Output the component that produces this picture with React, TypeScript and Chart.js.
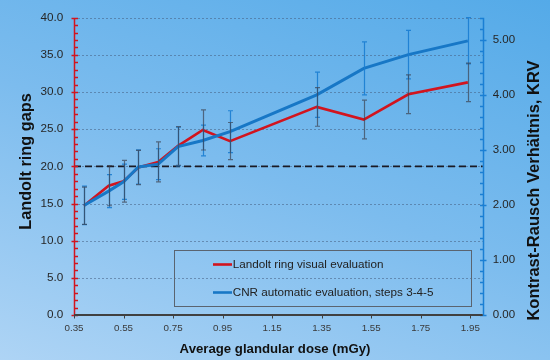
import React, { useEffect, useRef } from 'react';
import { Chart, registerables } from 'chart.js';

Chart.register(...registerables);

// ---- data ----
const doses = [0.39, 0.49, 0.55, 0.61, 0.69, 0.77, 0.87, 0.98, 1.33, 1.52, 1.70, 1.94];
const landolt = [14.7, 17.4, 18.0, 19.85, 20.6, 22.75, 24.9, 23.4, 28.0, 26.3, 29.7, 31.3];
const landoltErr = [2.5, 2.7, 2.8, 2.3, 2.7, 2.6, 2.7, 2.5, 2.6, 2.6, 2.6, 2.6];
const cnr = [1.99, 2.25, 2.42, 2.69, 2.74, 3.06, 3.17, 3.33, 4.0, 4.48, 4.73, 4.98];
const cnrErr = [0.35, 0.3, 0.32, 0.31, 0.28, 0.35, 0.28, 0.38, 0.41, 0.48, 0.44, 0.42];
const threshold = 20;

const xTickValues = [0.35, 0.55, 0.75, 0.95, 1.15, 1.35, 1.55, 1.75, 1.95];
const leftTickValues = [0, 5, 10, 15, 20, 25, 30, 35, 40];
const rightTickValues = [0, 1, 2, 3, 4, 5];

const seriesLabels = ['Landolt ring visual evaluation', 'CNR automatic evaluation, steps 3-4-5'];
const xTitle = 'Average glandular dose (mGy)';
const leftTitle = 'Landolt ring gaps';
const rightTitle = 'Kontrast-Rausch Verhältnis, KRV';

const FONT = '"Liberation Sans", Arial, Helvetica, sans-serif';
const RED = '#d2141e';
const BLUE = '#1777c6';

export default function App() {
  const ref = useRef<HTMLCanvasElement>(null);

  useEffect(() => {
    const canvas = ref.current;
    if (!canvas) return;

    const customPlugin = {
      id: 'customDecor',
      beforeDatasetsDraw(chart: any) {
        const { ctx, chartArea: a, scales } = chart;
        const yL = scales.y;
        ctx.save();
        // dotted grid lines
        ctx.strokeStyle = 'rgba(70,95,130,0.55)';
        ctx.lineWidth = 1;
        ctx.setLineDash([2, 2]);
        leftTickValues.forEach((v) => {
          if (v === 0) return;
          const py = Math.round(yL.getPixelForValue(v)) + 0.5;
          ctx.beginPath();
          ctx.moveTo(a.left, py);
          ctx.lineTo(a.right, py);
          ctx.stroke();
        });
        // threshold dashed line
        ctx.strokeStyle = '#1a1a24';
        ctx.lineWidth = 1.8;
        ctx.setLineDash([7, 4]);
        const ty = yL.getPixelForValue(threshold);
        ctx.beginPath();
        ctx.moveTo(a.left, ty);
        ctx.lineTo(a.right, ty);
        ctx.stroke();
        ctx.restore();
      },
      afterDatasetsDraw(chart: any) {
        const { ctx, scales } = chart;
        const xs = scales.x;
        const drawBars = (vals: number[], errs: number[], scale: any, color: string) => {
          ctx.save();
          ctx.strokeStyle = color;
          ctx.lineWidth = 1.2;
          ctx.setLineDash([]);
          vals.forEach((v, i) => {
            const px = Math.round(xs.getPixelForValue(doses[i])) + 0.5;
            const top = scale.getPixelForValue(v + errs[i]);
            const bot = scale.getPixelForValue(v - errs[i]);
            ctx.beginPath();
            ctx.moveTo(px, top);
            ctx.lineTo(px, bot);
            ctx.moveTo(px - 2.5, top);
            ctx.lineTo(px + 2.5, top);
            ctx.moveTo(px - 2.5, bot);
            ctx.lineTo(px + 2.5, bot);
            ctx.stroke();
          });
          ctx.restore();
        };
        drawBars(cnr, cnrErr, scales.y1, 'rgba(25,125,210,0.9)');
        drawBars(landolt, landoltErr, scales.y, 'rgba(60,65,80,0.7)');
      },
      afterDraw(chart: any) {
        const { ctx, chartArea: a, scales } = chart;
        const yL = scales.y;
        const yR = scales.y1;
        const xs = scales.x;
        ctx.save();
        ctx.setLineDash([]);
        // left axis (red)
        const lx = Math.round(a.left) + 0.5;
        ctx.strokeStyle = RED;
        ctx.lineWidth = 1.5;
        ctx.beginPath();
        ctx.moveTo(lx, a.top);
        ctx.lineTo(lx, a.bottom + 1);
        for (let v = 0; v <= 40; v += 1) {
          const py = Math.round(yL.getPixelForValue(v)) + 0.5;
          if (v % 5 === 0) {
            ctx.moveTo(lx - 3, py);
            ctx.lineTo(lx + 3.5, py);
          } else {
            ctx.moveTo(lx, py);
            ctx.lineTo(lx + 3.5, py);
          }
        }
        ctx.stroke();
        // right axis (blue)
        const rx = Math.round(a.right) + 0.5;
        ctx.strokeStyle = '#1a7fd4';
        ctx.beginPath();
        ctx.moveTo(rx, a.top);
        ctx.lineTo(rx, a.bottom + 1);
        for (let k = 0; k <= 27; k++) {
          const v = k * 0.2;
          const py = Math.round(yR.getPixelForValue(v)) + 0.5;
          if (k % 5 === 0) {
            ctx.moveTo(rx - 3.5, py);
            ctx.lineTo(rx + 3, py);
          } else {
            ctx.moveTo(rx - 3.5, py);
            ctx.lineTo(rx, py);
          }
        }
        ctx.stroke();
        // x axis
        ctx.strokeStyle = '#404040';
        ctx.lineWidth = 2;
        const by = Math.round(a.bottom);
        ctx.beginPath();
        ctx.moveTo(a.left, by);
        ctx.lineTo(a.right, by);
        ctx.stroke();
        ctx.lineWidth = 1;
        ctx.beginPath();
        xTickValues.forEach((v) => {
          const px = Math.round(xs.getPixelForValue(v)) + 0.5;
          ctx.moveTo(px, by);
          ctx.lineTo(px, by + 3.5);
        });
        ctx.stroke();

        // titles
        ctx.fillStyle = '#111';
        ctx.textAlign = 'center';
        ctx.textBaseline = 'middle';
        ctx.font = `bold 13.2px ${FONT}`;
        ctx.fillText(xTitle, 275, 349.5);
        ctx.save();
        ctx.translate(27, 161.5);
        ctx.rotate(-Math.PI / 2);
        ctx.font = `bold 16.3px ${FONT}`;
        ctx.fillText(leftTitle, 0, 0);
        ctx.restore();
        ctx.save();
        ctx.translate(534.5, 190.5);
        ctx.rotate(-Math.PI / 2);
        ctx.font = `bold 16.5px ${FONT}`;
        ctx.fillText(rightTitle, 0, 0);
        ctx.restore();

        // legend
        ctx.strokeStyle = '#5a6470';
        ctx.lineWidth = 1;
        ctx.strokeRect(174.5, 250.5, 297, 56);
        const items = [
          { label: seriesLabels[0], color: RED, y: 264.5 },
          { label: seriesLabels[1], color: BLUE, y: 292.5 },
        ];
        ctx.font = `11.7px ${FONT}`;
        ctx.textAlign = 'left';
        items.forEach((it) => {
          ctx.strokeStyle = it.color;
          ctx.lineWidth = 2.6;
          ctx.beginPath();
          ctx.moveTo(213, it.y);
          ctx.lineTo(232, it.y);
          ctx.stroke();
          ctx.fillStyle = '#222';
          ctx.fillText(it.label, 232.7, it.y);
        });
        ctx.restore();
      },
    };

    const chart = new Chart(canvas, {
      type: 'line',
      data: {
        datasets: [
          {
            label: seriesLabels[1],
            data: doses.map((x, i) => ({ x, y: cnr[i] })),
            yAxisID: 'y1',
            borderColor: BLUE,
            borderWidth: 3,
            pointRadius: 0,
            tension: 0,
            fill: false,
            order: 0,
          },
          {
            label: seriesLabels[0],
            data: doses.map((x, i) => ({ x, y: landolt[i] })),
            yAxisID: 'y',
            borderColor: RED,
            borderWidth: 2.6,
            pointRadius: 0,
            tension: 0,
            fill: false,
            order: 1,
          },
        ],
      },
      options: {
        responsive: false,
        animation: false,
        devicePixelRatio: 1,
        layout: { padding: { top: 11.5, left: 0, right: 0, bottom: 0 } },
        plugins: {
          legend: { display: false },
          tooltip: { enabled: false },
        },
        scales: {
          x: {
            type: 'linear',
            min: 0.35,
            max: 2.0,
            grid: { display: false, drawTicks: false },
            border: { display: false },
            afterBuildTicks: (s: any) => {
              s.ticks = xTickValues.map((v) => ({ value: v }));
            },
            afterFit: (s: any) => {
              s.height = 45;
            },
            ticks: {
              autoSkip: false,
              maxRotation: 0,
              padding: 7,
              color: '#3a3a3a',
              font: { family: FONT, size: 9.8 },
              callback: (v: any) => Number(v).toFixed(2),
            },
          },
          y: {
            type: 'linear',
            position: 'left',
            min: 0,
            max: 40,
            grid: { display: false, drawTicks: false },
            border: { display: false },
            afterBuildTicks: (s: any) => {
              s.ticks = leftTickValues.map((v) => ({ value: v }));
            },
            afterFit: (s: any) => {
              s.width = 74;
            },
            ticks: {
              padding: 10.7,
              color: '#262626',
              font: { family: FONT, size: 11.7 },
              callback: (v: any) => Number(v).toFixed(1),
            },
          },
          y1: {
            type: 'linear',
            position: 'right',
            min: 0,
            max: 5.4,
            grid: { display: false, drawTicks: false },
            border: { display: false },
            afterBuildTicks: (s: any) => {
              s.ticks = rightTickValues.map((v) => ({ value: v }));
            },
            afterFit: (s: any) => {
              s.width = 67.3;
            },
            ticks: {
              padding: 10,
              color: '#262626',
              font: { family: FONT, size: 11.5 },
              callback: (v: any) => Number(v).toFixed(2),
            },
          },
        },
      } as any,
      plugins: [customPlugin],
    });

    return () => chart.destroy();
  }, []);

  return (
    <div
      style={{
        position: 'fixed',
        left: 0,
        top: 0,
        width: 550,
        height: 360,
        background: 'linear-gradient(200deg, #54aae8 0%, #7cbcee 50%, #aed4f5 100%)',
      }}
    >
      <canvas ref={ref} width={550} height={360} style={{ display: 'block' }} />
    </div>
  );
}
